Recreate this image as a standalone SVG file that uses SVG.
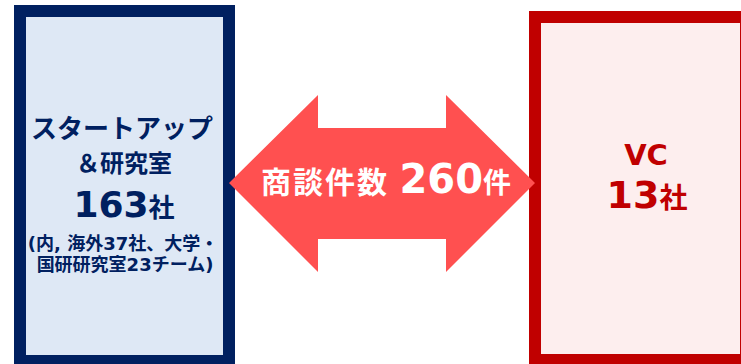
<svg xmlns="http://www.w3.org/2000/svg" width="741" height="364" viewBox="0 0 741 364">
<style>
.t{font-family:"DejaVu Sans","Noto Sans CJK JP",sans-serif;font-weight:bold;text-anchor:middle}
.nv{fill:#002060}
.rd{fill:#C00000}
.wh{fill:#FFFFFF}
</style>
<rect width="741" height="364" fill="#FFFFFF"/>
<g id="startup">
<rect x="20" y="11" width="209" height="350" fill="#DEE8F5" stroke="#002060" stroke-width="12"/>
<text class="t nv" x="122" y="138" font-size="26">スタートアップ</text>
<text class="t nv" x="124" y="172" font-size="24">＆研究室</text>
<text class="t nv" x="124" y="217"><tspan font-size="36">163</tspan><tspan font-size="26">社</tspan></text>
<text class="t nv" x="123" y="250" font-size="18">(内, 海外37社、大学・</text>
<text class="t nv" x="125" y="271" font-size="18">国研研究室23チーム)</text>
</g>
<g id="vc">
<rect x="535" y="17" width="211" height="343" fill="#FDEEEE" stroke="#C00000" stroke-width="12"/>
<text class="t rd" x="646" y="165" font-size="29">VC</text>
<text class="t rd" x="647" y="208"><tspan font-size="38">13</tspan><tspan font-size="28">社</tspan></text>
</g>
<g id="connectors">
<polygon points="229,183 318,95 318,128 446,128 446,95 535,183 446,272 446,239 318,239 318,272" fill="#FF5050"/>
<text class="t wh" x="386" y="193"><tspan font-size="30" letter-spacing="2">商談件数</tspan><tspan font-size="30"> </tspan><tspan font-size="40">260</tspan><tspan font-size="28">件</tspan></text>
</g>
</svg>
